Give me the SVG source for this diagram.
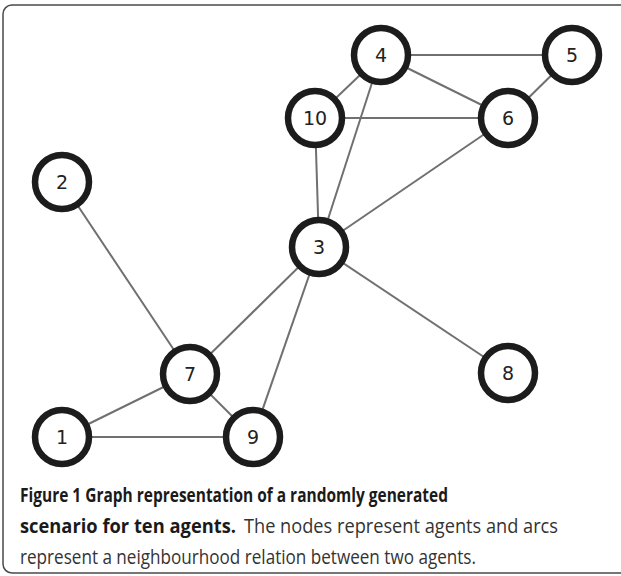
<svg xmlns="http://www.w3.org/2000/svg" width="621" height="576" viewBox="0 0 621 576">
  <style>
    .frame { fill: #ffffff; stroke: #4a4a4a; stroke-width: 1.5; }
    .edge { stroke: #707070; stroke-width: 2; fill: none; }
    .node circle { fill: #ffffff; stroke: #1c1c1c; stroke-width: 6.5; }
    .node text { font-family: "DejaVu Sans", sans-serif; font-size: 19px; fill: #222222; text-anchor: middle; dominant-baseline: central; }
    .cap { font-family: "Open Sans", "Noto Sans", sans-serif; font-size: 20px; fill: #1a1a1a; }
    .b { font-weight: bold; }
    .r { fill: #333333; }
  </style>

  <!-- outer panel -->
  <rect class="frame" x="3" y="5" width="640" height="568" rx="9" ry="9"/>

  <!-- connectors -->
  <g id="edges">
    <line class="edge" x1="381" y1="55" x2="572" y2="55"/>
    <line class="edge" x1="381" y1="55" x2="315" y2="118"/>
    <line class="edge" x1="381" y1="55" x2="508" y2="118"/>
    <line class="edge" x1="381" y1="55" x2="319" y2="247"/>
    <line class="edge" x1="572" y1="55" x2="508" y2="118"/>
    <line class="edge" x1="315" y1="118" x2="508" y2="118"/>
    <line class="edge" x1="315" y1="118" x2="319" y2="247"/>
    <line class="edge" x1="508" y1="118" x2="319" y2="247"/>
    <line class="edge" x1="319" y1="247" x2="190" y2="374"/>
    <line class="edge" x1="319" y1="247" x2="253" y2="437"/>
    <line class="edge" x1="319" y1="247" x2="508" y2="373"/>
    <line class="edge" x1="62" y1="182" x2="190" y2="374"/>
    <line class="edge" x1="190" y1="374" x2="62" y2="437"/>
    <line class="edge" x1="190" y1="374" x2="253" y2="437"/>
    <line class="edge" x1="62" y1="437" x2="253" y2="437"/>
  </g>

  <!-- agents -->
  <g id="n1" class="node"><circle cx="62" cy="437" r="27"/><text x="62" y="437">1</text></g>
  <g id="n2" class="node"><circle cx="62" cy="182" r="27"/><text x="62" y="182">2</text></g>
  <g id="n3" class="node"><circle cx="319" cy="247" r="27"/><text x="319" y="247">3</text></g>
  <g id="n4" class="node"><circle cx="381" cy="55" r="27"/><text x="381" y="55">4</text></g>
  <g id="n5" class="node"><circle cx="572" cy="55" r="27"/><text x="572" y="55">5</text></g>
  <g id="n6" class="node"><circle cx="508" cy="118" r="27"/><text x="508" y="118">6</text></g>
  <g id="n7" class="node"><circle cx="190" cy="374" r="27"/><text x="190" y="374">7</text></g>
  <g id="n8" class="node"><circle cx="508" cy="373" r="27"/><text x="508" y="373">8</text></g>
  <g id="n9" class="node"><circle cx="253" cy="437" r="27"/><text x="253" y="437">9</text></g>
  <g id="n10" class="node"><circle cx="315" cy="118" r="27"/><text x="315" y="118">10</text></g>

  <!-- caption -->
  <g id="caption">
    <text class="cap b" x="20" y="502" textLength="428" lengthAdjust="spacingAndGlyphs">Figure 1 Graph representation of a randomly generated</text>
    <text class="cap b" x="20" y="533" textLength="216" lengthAdjust="spacingAndGlyphs">scenario for ten agents.</text>
    <text class="cap r" x="244" y="533" textLength="314" lengthAdjust="spacingAndGlyphs">The nodes represent agents and arcs</text>
    <text class="cap r" x="20" y="564" textLength="456" lengthAdjust="spacingAndGlyphs">represent a neighbourhood relation between two agents.</text>
  </g>
</svg>
